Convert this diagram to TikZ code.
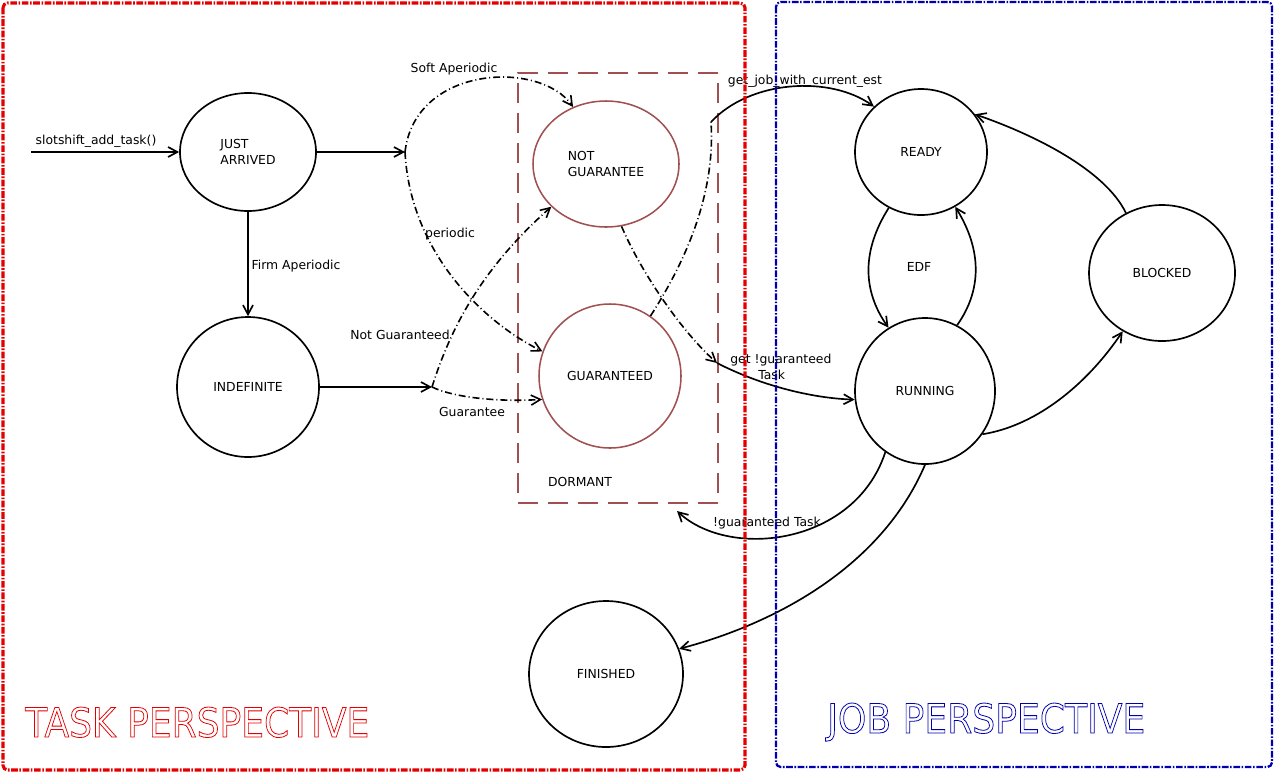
\documentclass[tikz,border=0pt]{standalone}
\usepackage{fontspec}
\setmainfont{DejaVu Sans}
\usetikzlibrary{shapes.geometric,arrows.meta}
\newdimen\pxu \pxu=0.75pt
\definecolor{brn}{RGB}{160,80,80}
\definecolor{fred}{RGB}{228,0,0}
\definecolor{fblue}{RGB}{0,0,175}
\newcommand{\outlinetext}[1]{\special{pdf:literal direct 1 Tr 0.6 w}#1\special{pdf:literal direct 0 Tr}}
\begin{document}
\begin{tikzpicture}[x=0.75pt,y=-0.75pt,
  every node/.style={font=\fontsize{9.3}{12}\selectfont},
  st/.style={ellipse,draw,line width=1.25pt,inner sep=0pt,align=center},
  br/.style={st,draw=brn,line width=1.15pt},
  arr/.style={line width=1.25pt,-{Straight Barb[length=7pt,width=7.5pt]}},
  dd/.style={line width=1.2pt,dash pattern=on 5.25pt off 2.25pt on 0.75pt off 2.25pt},
  ddarr/.style={dd,-{Straight Barb[length=7pt,width=7.5pt]}},
  lbl/.style={anchor=base,inner sep=0pt},
  framedash/.style={dash pattern=on 5pt off 1.2pt on 1.2pt off 1.2pt},
]
\useasboundingbox (0,0) rectangle (1276,772);

% states
\node[st,minimum width=136\pxu,minimum height=118\pxu,align=left] (ja) at (248,152) {JUST\\ARRIVED};
\node[st,minimum width=142\pxu,minimum height=140\pxu] (ind) at (248,387) {INDEFINITE};
\node[br,minimum width=146\pxu,minimum height=126\pxu,align=left] (ng) at (606,164) {NOT\\GUARANTEE};
\node[br,minimum width=142\pxu,minimum height=144\pxu] (g) at (610,376) {GUARANTEED};
\node[st,minimum width=132\pxu,minimum height=126\pxu] (ready) at (921,152) {READY};
\node[st,minimum width=140\pxu,minimum height=146\pxu] (run) at (925,391) {RUNNING};
\node[st,minimum width=146\pxu,minimum height=136\pxu] (blk) at (1162,273) {BLOCKED};
\node[st,minimum width=154\pxu,minimum height=146\pxu] (fin) at (606,674) {FINISHED};

% dormant box
\node[draw=brn,line width=1.5pt,dash pattern=on 15pt off 7.5pt,minimum width=200\pxu,minimum height=430\pxu,inner sep=0pt] (dorm) at (618,288) {};
\node[lbl] (dormlbl) at (580,486) {DORMANT};

% helper coordinates
\coordinate (start) at (31,152);
\coordinate (j1) at (405,152);
\coordinate (j2) at (432,387);
\coordinate (gt) at (717,363);
\coordinate (gj) at (711,122);
\coordinate (dm) at (677,511);

% connectors
\draw[arr] (start) -- (ja.west);
\draw[arr] (ja.east) -- (j1);
\draw[ddarr] (j1) .. controls (415,65) and (540,60) .. (ng.120);
\draw[ddarr] (j1) .. controls (410,250) and (480,320) .. (g.160);
\draw[arr] (ja.south) -- (ind.north);
\draw[arr] (ind.east) -- (j2);
\draw[ddarr] (j2) .. controls (450,330) and (480,270) .. (ng.218);
\draw[ddarr] (j2) .. controls (455,398) and (500,402) .. (g.199);
\draw[ddarr] (ng.284) .. controls (640,270) and (680,330) .. (gt);
\draw[arr] (gt) .. controls (760,385) and (810,398) .. (run.187);
\draw[dd] (g.56) .. controls (680,270) and (716,200) .. (gj);
\draw[arr] (gj) .. controls (750,80) and (830,75) .. (ready.136);
\draw[arr] (ready.240) .. controls (862,250) and (862,290) .. (run.120);
\draw[arr] (run.64) .. controls (982,290) and (982,250) .. (ready.302);
\draw[arr] (blk.121) .. controls (1105,170) and (1035,135) .. (ready.35);
\draw[arr] (run.323) .. controls (1040,425) and (1090,380) .. (blk.236);
\draw[arr] (run.237) .. controls (855,545) and (730,560) .. (dm);
\draw[arr] (run.south) .. controls (880,570) and (770,625) .. (fin.19);

% labels
\node[lbl] (l1) at (96,144) {slotshift\_add\_task()};
\node[lbl] (l2) at (296,269) {Firm Aperiodic};
\node[lbl] (l3) at (454,72) {Soft Aperiodic};
\node[lbl] (l4) at (450,237) {periodic};
\node[lbl] (l5) at (400,339) {Not Guaranteed};
\node[lbl] (l6) at (472,416) {Guarantee};
\node[anchor=west,inner sep=0pt,align=left] (l7) at (730,367) {get !guaranteed\\\hspace{21pt}Task};
\node[lbl] (l8) at (767,526) {!guaranteed Task};
\node[lbl] (l9) at (805,84) {get\_job\_with\_current\_est};
\node[lbl] (l10) at (919,271) {EDF};

% frames
\draw[fred,line width=2.3pt,rounded corners=3.5pt,framedash] (3,3) rectangle (745,770);
\draw[fblue,line width=1.7pt,rounded corners=3.5pt,framedash] (776,2) rectangle (1272,767);

% titles
\node[anchor=base west,inner sep=0pt,text=fred] (tt) at (25,737)
  {\outlinetext{\resizebox{258pt}{22.5pt}{\fontsize{30}{36}\selectfont TASK PERSPECTIVE}}};
\node[anchor=base west,inner sep=0pt,text=fblue] (jt) at (827,733)
  {\outlinetext{\resizebox{238.5pt}{22.5pt}{\fontsize{30}{36}\selectfont JOB PERSPECTIVE}}};
\end{tikzpicture}
\end{document}
